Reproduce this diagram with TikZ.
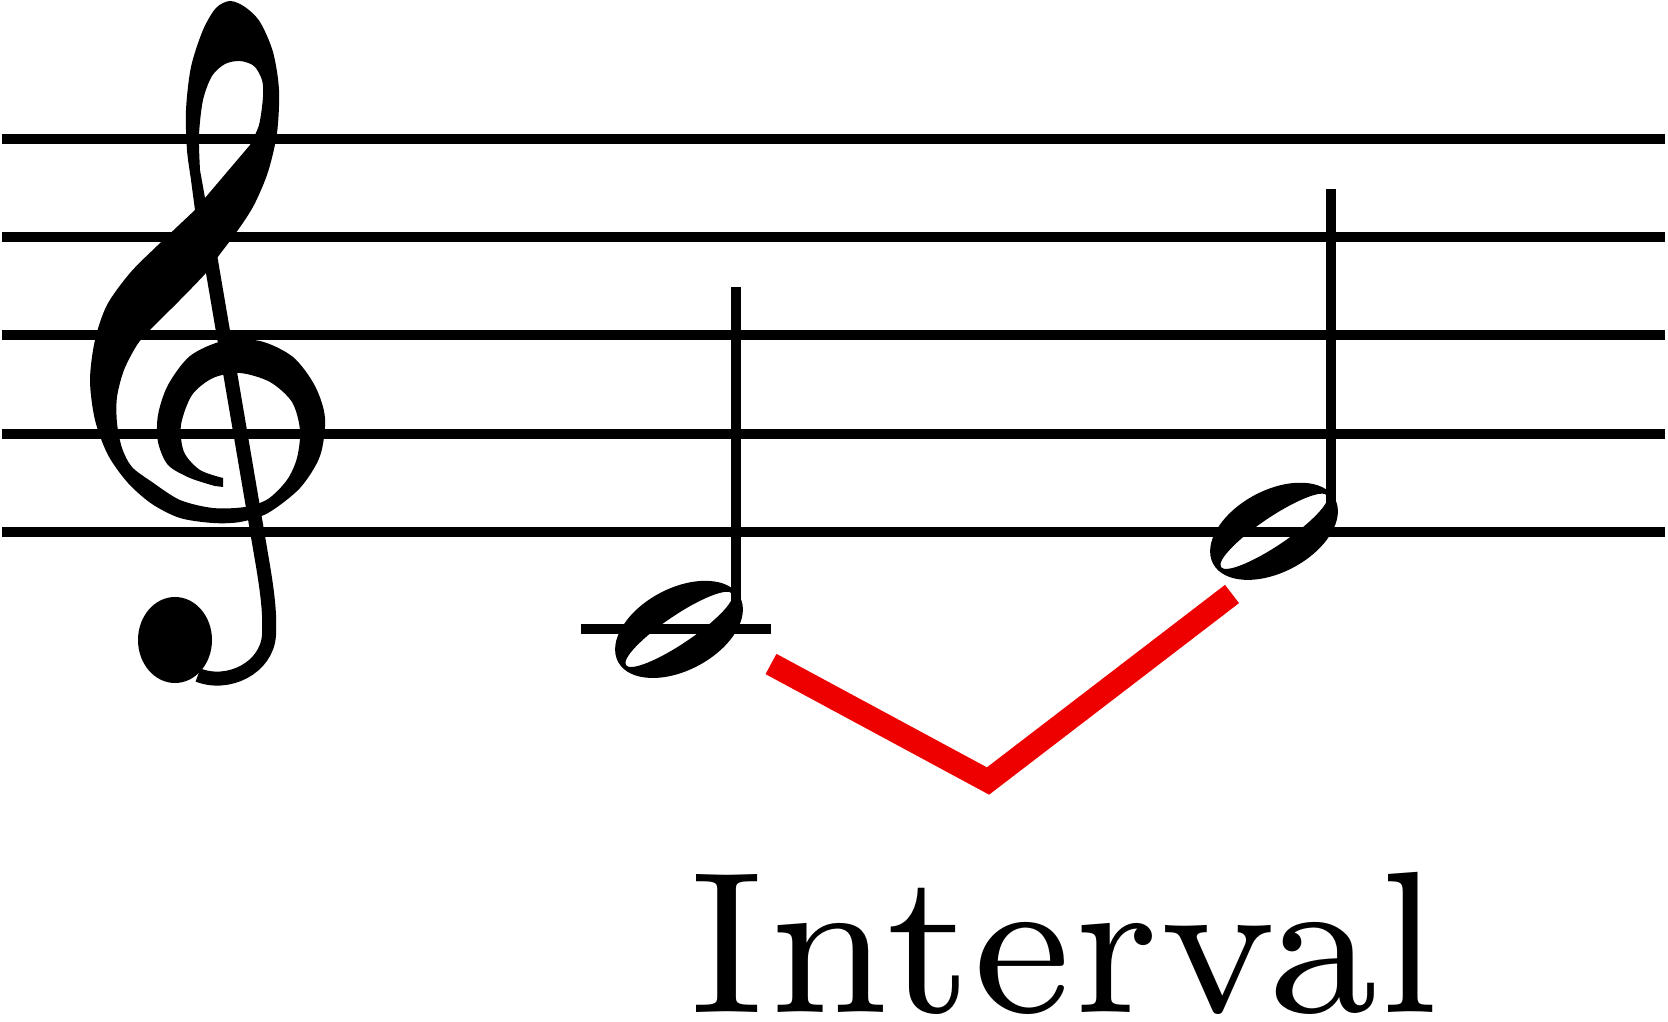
\documentclass[tikz,border=0pt]{standalone}
\usepackage{tikz}
\usetikzlibrary{positioning}
\font\labelfont=cmr7 at 57.5pt
\definecolor{intervalred}{RGB}{238,0,0}

\begin{document}
\begin{tikzpicture}[
    % GLOBAL CFG: one unit is one pixel of the sketch, y goes down
    x=0.1mm, y=-0.1mm,
    line cap=butt,
    % Styles
    staffline/.style={% For the five lines and the ledger line
        line width=1mm,
        },
    stem/.style={% For the note stems
        line width=1mm,
        },
    notehead/.style={% Hollow half note head
        fill=black,
        even odd rule,
        },
    clefbody/.style={% Filled outline of the clef
        fill=black,
        even odd rule,
        },
    clefstem/.style={% Thin stroke of the clef with its hook
        line width=1.4mm,
        },
    interval/.style={% The red V between the notes
        draw=intervalred,
        line width=2.3mm,
        miter limit=10,
        },
    mylabel/.style={% Text under the staff, a bit narrow
        font=\labelfont,
        inner sep=0pt,
        xscale=0.972,
        transform shape,
        },
    ]

    \useasboundingbox (0,0) rectangle (1668,1022);

    % Draw the staff
    \foreach \i in {0,...,4}
        \draw [staffline] (2,139.3+98.1*\i) -- (1665,139.3+98.1*\i);

    % Draw the clef
    \fill [clefbody] (223,487)
        -- plot [smooth] coordinates {(215,486) (190,478) (168,465) (158,442) (158,415)
            (168,385) (190,356) (223,341) (260,341) (293,357) (315,386) (325,418)
            (320,456) (300,488) (268,513) (240,522) (213,523) (180,518) (152,504)
            (128,483) (108,455) (95,420) (90,380) (95,340) (107,305) (130,273)
            (157,246) (195,210)}
        -- plot [smooth] coordinates {(195,210) (191,180) (187,150) (186,110) (191,67)
            (203,30) (216,8) (230,1) (245,7) (260,22) (273,52) (279,90) (277,133)
            (268,172) (254,205) (238,230) (217,258) (205,274) (180,300) (150,330)
            (137,345) (124,370) (117,397) (117,423) (122,448) (132,467) (152,482)
            (180,500) (213,508) (245,507) (268,499) (287,480) (297,458) (300,430)
            (292,402) (270,382) (240,373) (213,378) (192,395) (181,425) (184,452)
            (200,470) (223,478)}
        -- cycle
        (205,198)
        -- plot [smooth] coordinates {(200,170) (199,135) (203,100) (212,76) (225,64)
            (240,61) (254,66) (262,80) (263,97) (259,125) (250,145)}
        -- cycle;
    \draw [clefstem] (210,255) -- (262,560) .. controls (268,595) and (270,615) .. (269,635)
        .. controls (267,668) and (228,687) .. (198,675);
    \fill (175,640) circle [x radius=3.7mm, y radius=4.3mm];

    % Note positions named note#
    \coordinate (note1) at (679,629.4);
    \coordinate (note2) at (1274,531.3);

    % Ledger line for the first note
    \draw [staffline] ([xshift=-9.8mm]note1) -- ([xshift=9.2mm]note1);

    % Note heads
    \fill [notehead] (note1) circle [x radius=6.9mm, y radius=4.1mm, rotate=28]
                     (note1) circle [x radius=6.4mm, y radius=1.4mm, rotate=34];
    \fill [notehead] (note2) circle [x radius=6.9mm, y radius=4.1mm, rotate=28]
                     (note2) circle [x radius=6.4mm, y radius=1.4mm, rotate=34];

    % Stems
    \draw [stem] ([xshift=5.7mm,yshift=0.9mm]note1) -- ++(0,-333);
    \draw [stem] ([xshift=5.7mm,yshift=0.9mm]note2) -- ++(0,-333);

    % The interval mark
    \coordinate (ivstart) at (771,664);
    \coordinate (ivlow) at (988,781);
    \coordinate (ivend) at (1232,594);
    \draw [interval] (ivstart) -- (ivlow) -- (ivend);

    % Label
    \node [mylabel, anchor=base] (label) at (1064,1012) {Interval};

\end{tikzpicture}
\end{document}
